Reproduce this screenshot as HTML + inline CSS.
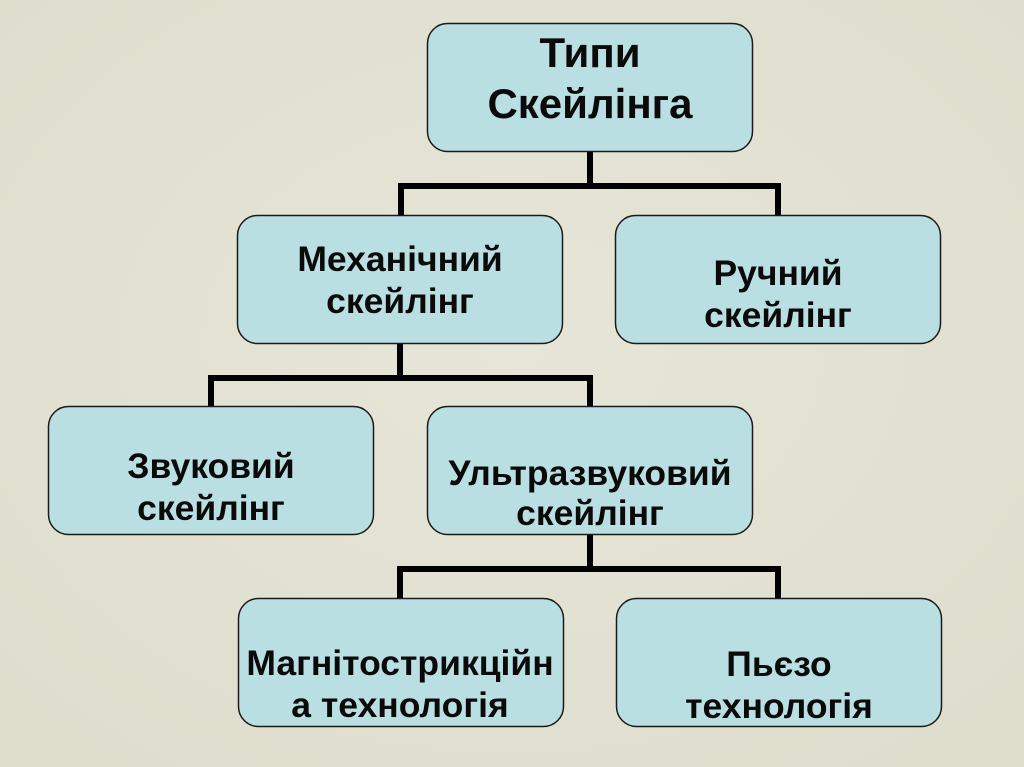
<!DOCTYPE html>
<html>
<head>
<meta charset="utf-8">
<style>
  html, body { margin:0; padding:0; }
  body { width:1024px; height:767px; overflow:hidden; background:#e3e1d2; }
  svg { display:block; }
  text { font-family:"Liberation Sans", Arial, sans-serif; font-weight:bold; fill:#0a0a0a; text-anchor:middle; }
</style>
</head>
<body>
<svg width="1024" height="767" viewBox="0 0 1024 767" xmlns="http://www.w3.org/2000/svg">
  <defs>
    <radialGradient id="bg" cx="50%" cy="45%" r="75%">
      <stop offset="0" stop-color="#e7e5d7"/>
      <stop offset="1" stop-color="#deddcc"/>
    </radialGradient>
  </defs>
  <rect x="0" y="0" width="1024" height="767" fill="url(#bg)"/>

  <!-- connectors -->
  <g fill="none" stroke="#000" stroke-width="6" stroke-linejoin="miter" stroke-linecap="butt">
    <path d="M590 152 V186"/>
    <path d="M401 215 V186 H778 V215"/>
    <path d="M400 343 V378"/>
    <path d="M211 407 V378 H590 V407"/>
    <path d="M590 535 V569"/>
    <path d="M400 598 V569 H778 V598"/>
  </g>

  <!-- boxes -->
  <g fill="#badfe3" stroke="#1a1a1a" stroke-width="1.5">
    <rect x="427.5" y="23.5" width="325" height="128" rx="20" ry="20"/>
    <rect x="237.5" y="215.5" width="325" height="128" rx="20" ry="20"/>
    <rect x="615.5" y="215.5" width="325" height="128" rx="20" ry="20"/>
    <rect x="48.5" y="406.5" width="325" height="128" rx="20" ry="20"/>
    <rect x="427.5" y="406.5" width="325" height="128" rx="20" ry="20"/>
    <rect x="238.5" y="598.5" width="325" height="128" rx="20" ry="20"/>
    <rect x="616.5" y="598.5" width="325" height="128" rx="20" ry="20"/>
  </g>

  <!-- labels -->
  <g font-size="42">
    <text x="590" y="67">Типи</text>
    <text x="590" y="118">Скейлінга</text>
  </g>
  <g font-size="35.5">
    <text x="400" y="271">Механічний</text>
    <text x="400" y="313">скейлінг</text>

    <text x="778" y="285">Ручний</text>
    <text x="778" y="327">скейлінг</text>

    <text x="211" y="478">Звуковий</text>
    <text x="211" y="520">скейлінг</text>

    <text x="590" y="485">Ультразвуковий</text>
    <text x="590" y="525">скейлінг</text>

    <text x="400" y="675">Магнітострикційн</text>
    <text x="400" y="717">а технологія</text>

    <text x="779" y="676">Пьєзо</text>
    <text x="779" y="718">технологія</text>
  </g>
</svg>
</body>
</html>
